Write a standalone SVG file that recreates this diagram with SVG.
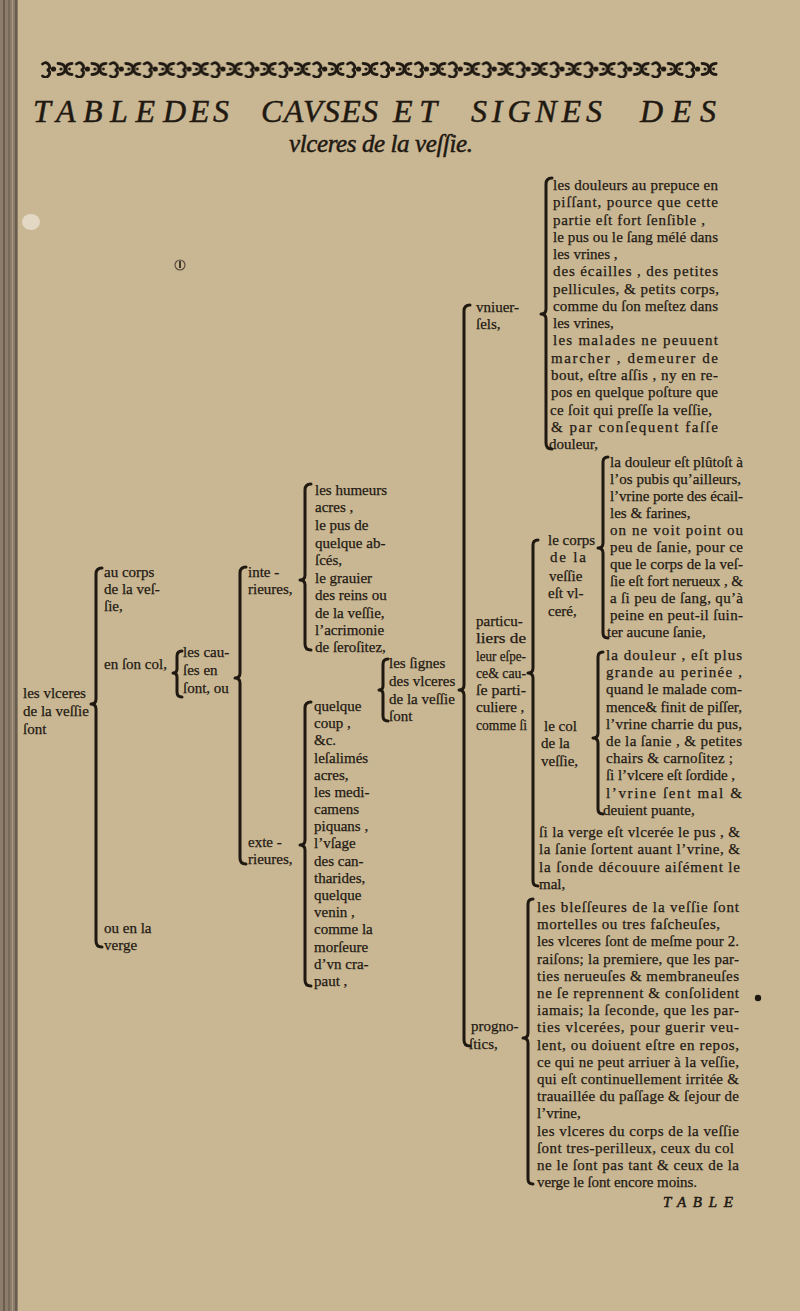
<svg xmlns="http://www.w3.org/2000/svg" width="800" height="1311" viewBox="0 0 800 1311">
<defs>
<style>
.t{font-family:"Liberation Serif","Times New Roman",serif;font-size:15px;fill:#1f1912;stroke:#1f1912;stroke-width:0.25;}
.it{font-family:"Liberation Serif","Times New Roman",serif;font-style:italic;fill:#1f1912;stroke:#1f1912;stroke-width:0.5;}
.b{fill:none;stroke:#1f1912;stroke-width:3;stroke-linecap:round;stroke-linejoin:round;}
.orn{fill:none;stroke:#1f1912;stroke-width:2.8;stroke-linecap:round;}
</style>
<pattern id="ornament" patternUnits="userSpaceOnUse" x="40" y="60" width="33.9" height="18">
<path class="orn" d="M2.5 4 q4 -3 6.5 1 q2 4 -2 5 q4 1 2 5 q-2.5 4 -6.5 1"/>
<circle cx="13.5" cy="9" r="2.6" fill="#1f1912"/>
<path class="orn" d="M18 3.5 q7 0 7 5.5 q0 5.5 -7 5.5"/>
<path class="orn" d="M32 3.5 q-6 0 -6 5.5 q0 5.5 6 5.5"/>
<circle cx="21" cy="9" r="1.6" fill="#1f1912"/>
<circle cx="29.5" cy="9" r="1.4" fill="#1f1912"/>
</pattern>
</defs>

<g id="page">
<rect x="0" y="0" width="800" height="1311" fill="#c9b794"/>
<rect x="0" y="0" width="18" height="1311" fill="#8b7d69"/>
<line x1="4" y1="0" x2="4" y2="1311" stroke="#5e5446" stroke-width="1.5"/>
<line x1="9" y1="0" x2="9" y2="1311" stroke="#6a5f50" stroke-width="1.2"/>
<line x1="12.5" y1="0" x2="12.5" y2="1311" stroke="#a89a83" stroke-width="1"/>
<line x1="16" y1="0" x2="16" y2="1311" stroke="#5e5446" stroke-width="1.5"/>
<ellipse cx="31" cy="222" rx="9" ry="8" fill="#e2d8c3"/>
<circle cx="180" cy="265" r="5" fill="none" stroke="#5a4d3e" stroke-width="1.2"/>
<line x1="180" y1="261" x2="180" y2="268" stroke="#1f1912" stroke-width="1.6"/>
<circle cx="758" cy="998" r="3.2" fill="#1e1812"/>
</g>

<g id="header">
<rect x="40" y="60" width="678" height="18" fill="url(#ornament)"/>
<text class="it" font-size="32" x="33" y="122" textLength="122" lengthAdjust="spacing">TABLE</text>
<text class="it" font-size="32" x="163" y="122" textLength="66" lengthAdjust="spacing">DES</text>
<text class="it" font-size="32" x="261" y="122" textLength="117" lengthAdjust="spacing">CAVSES</text>
<text class="it" font-size="32" x="393" y="122" textLength="44" lengthAdjust="spacing">ET</text>
<text class="it" font-size="32" x="471" y="122" textLength="131" lengthAdjust="spacing">SIGNES</text>
<text class="it" font-size="32" x="640" y="122" textLength="76" lengthAdjust="spacing">DES</text>
<text class="it" font-size="25" x="289" y="152" textLength="184" lengthAdjust="spacing">vlceres de la veſſie.</text>
</g>

<g id="connectors">
<path class="b" d="M102,568 Q96,568 96,574 L96,699 Q96,704 91,704 Q96,704 96,709 L96,941 Q96,947 102,947"/>
<path class="b" d="M182,651 Q177,651 177,656 L177,669 Q177,673 173,673 Q177,673 177,677 L177,692 Q177,697 182,697"/>
<path class="b" d="M246,567 Q240,567 240,573 L240,673 Q240,678 235,678 Q240,678 240,683 L240,858 Q240,864 246,864"/>
<path class="b" d="M311,484 Q305,484 305,490 L305,575 Q305,580 300,580 Q305,580 305,585 L305,644 Q305,650 311,650"/>
<path class="b" d="M311,702 Q305,702 305,708 L305,840 Q305,845 300,845 Q305,845 305,850 L305,980 Q305,986 311,986"/>
<path class="b" d="M388,659 Q383,659 383,664 L383,686 Q383,690 379,690 Q383,690 383,694 L383,716 Q383,721 388,721"/>
<path class="b" d="M470,305 Q464,305 464,311 L464,685 Q464,690 459,690 Q464,690 464,695 L464,1040 Q464,1046 470,1046"/>
<path class="b" d="M552,178 Q546,178 546,184 L546,309 Q546,314 541,314 Q546,314 546,319 L546,443 Q546,449 552,449"/>
<path class="b" d="M538,540 Q533,540 533,545 L533,668 Q533,673 528,673 Q533,673 533,678 L533,881 Q533,886 538,886"/>
<path class="b" d="M608,457 Q603,457 603,462 L603,543 Q603,548 598,548 Q603,548 603,553 L603,633 Q603,638 608,638"/>
<path class="b" d="M603,652 Q598,652 598,657 L598,733 Q598,738 593,738 Q598,738 598,743 L598,809 Q598,814 603,814"/>
<path class="b" d="M533,899 Q528,899 528,904 L528,1033 Q528,1038 523,1038 Q528,1038 528,1043 L528,1179 Q528,1184 533,1184"/>
</g>

<g id="node-root">
<text class="t" x="23" y="698">les vlceres</text>
<text class="t" x="23" y="716">de la veſſie</text>
<text class="t" x="23" y="734">ſont</text>
</g>

<g id="node-corps">
<text class="t" x="104" y="577">au corps</text>
<text class="t" x="104" y="594">de la veſ-</text>
<text class="t" x="104" y="611">ſie,</text>
</g>

<g id="node-col">
<text class="t" x="104" y="669">en ſon col,</text>
</g>

<g id="node-verge">
<text class="t" x="104" y="933">ou en la</text>
<text class="t" x="104" y="950">verge</text>
</g>

<g id="node-causes">
<text class="t" x="183" y="657">les cau-</text>
<text class="t" x="183" y="675">ſes en</text>
<text class="t" x="183" y="693">ſont, ou</text>
</g>

<g id="node-interieures">
<text class="t" x="248" y="577">inte -</text>
<text class="t" x="248" y="594">rieures,</text>
</g>

<g id="node-exterieures">
<text class="t" x="248" y="847">exte -</text>
<text class="t" x="248" y="864">rieures,</text>
</g>

<g id="node-causes-int">
<text class="t" x="315" y="495">les humeurs</text>
<text class="t" x="315" y="512">acres ,</text>
<text class="t" x="315" y="530">le pus de</text>
<text class="t" x="315" y="548">quelque ab-</text>
<text class="t" x="315" y="565">ſcés,</text>
<text class="t" x="315" y="583">le grauier</text>
<text class="t" x="315" y="600">des reins ou</text>
<text class="t" x="315" y="618">de la veſſie,</text>
<text class="t" x="315" y="635">l’acrimonie</text>
<text class="t" x="315" y="652">de ſeroſitez,</text>
</g>

<g id="node-causes-ext">
<text class="t" x="314" y="711">quelque</text>
<text class="t" x="314" y="728">coup ,</text>
<text class="t" x="314" y="745">&amp;c.</text>
<text class="t" x="314" y="763">leſalimés</text>
<text class="t" x="314" y="780">acres,</text>
<text class="t" x="314" y="797">les medi-</text>
<text class="t" x="314" y="814">camens</text>
<text class="t" x="314" y="831">piquans ,</text>
<text class="t" x="314" y="848">l’vſage</text>
<text class="t" x="314" y="866">des can-</text>
<text class="t" x="314" y="883">tharides,</text>
<text class="t" x="314" y="900">quelque</text>
<text class="t" x="314" y="917">venin ,</text>
<text class="t" x="314" y="934">comme la</text>
<text class="t" x="314" y="952">morſeure</text>
<text class="t" x="314" y="969">d’vn cra-</text>
<text class="t" x="314" y="986">paut ,</text>
</g>

<g id="node-signes">
<text class="t" x="389" y="668">les ſignes</text>
<text class="t" x="389" y="686">des vlceres</text>
<text class="t" x="389" y="704">de la veſſie</text>
<text class="t" x="389" y="721">ſont</text>
</g>

<g id="node-vniuersels">
<text class="t" x="476" y="312">vniuer-</text>
<text class="t" x="476" y="329">ſels,</text>
</g>

<g id="node-particuliers">
<text class="t" x="476" y="626">particu-</text>
<text class="t" x="476" y="643" textLength="50" lengthAdjust="spacingAndGlyphs">liers de</text>
<text class="t" x="476" y="661" textLength="50" lengthAdjust="spacingAndGlyphs">leur eſpe-</text>
<text class="t" x="476" y="678" textLength="50" lengthAdjust="spacingAndGlyphs">ce&amp; cau-</text>
<text class="t" x="476" y="695" textLength="50" lengthAdjust="spacingAndGlyphs">ſe parti-</text>
<text class="t" x="476" y="712">culiere ,</text>
<text class="t" x="476" y="730" textLength="51" lengthAdjust="spacingAndGlyphs">comme ſi</text>
</g>

<g id="node-prognostics">
<text class="t" x="471" y="1031">progno-</text>
<text class="t" x="469" y="1049">ſtics,</text>
</g>

<g id="node-signes-vniuersels">
<text class="t" x="553" y="190" textLength="165" lengthAdjust="spacing">les douleurs au prepuce en</text>
<text class="t" x="553" y="207.3" textLength="165" lengthAdjust="spacing">piſſant, pource que cette</text>
<text class="t" x="553" y="224.5" textLength="152" lengthAdjust="spacing">partie eſt fort ſenſible ,</text>
<text class="t" x="553" y="241.8" textLength="165" lengthAdjust="spacing">le pus ou le ſang mélé dans</text>
<text class="t" x="553" y="259.1">les vrines ,</text>
<text class="t" x="553" y="276.4" textLength="165" lengthAdjust="spacing">des écailles , des petites</text>
<text class="t" x="553" y="293.6" textLength="166" lengthAdjust="spacing">pellicules, &amp; petits corps,</text>
<text class="t" x="553" y="310.9" textLength="165" lengthAdjust="spacing">comme du ſon meſtez dans</text>
<text class="t" x="553" y="328.2">les vrines,</text>
<text class="t" x="553" y="345.4" textLength="165" lengthAdjust="spacing">les malades ne peuuent</text>
<text class="t" x="551" y="362.7" textLength="167" lengthAdjust="spacing">marcher , demeurer de</text>
<text class="t" x="551" y="380" textLength="167" lengthAdjust="spacing">bout, eſtre aſſis , ny en re-</text>
<text class="t" x="551" y="397.2" textLength="167" lengthAdjust="spacing">pos en quelque poſture que</text>
<text class="t" x="550" y="414.5" textLength="162" lengthAdjust="spacing">ce ſoit qui preſſe la veſſie,</text>
<text class="t" x="551" y="431.8" textLength="167" lengthAdjust="spacing">&amp; par conſequent faſſe</text>
<text class="t" x="549" y="449">douleur,</text>
</g>

<g id="node-corps-vessie">
<text class="t" x="548" y="545">le corps</text>
<text class="t" x="550" y="562" textLength="36" lengthAdjust="spacing">de la</text>
<text class="t" x="549" y="581">veſſie</text>
<text class="t" x="548" y="598">eſt vl-</text>
<text class="t" x="548" y="616">ceré,</text>
</g>

<g id="node-signes-corps">
<text class="t" x="610" y="467" textLength="133" lengthAdjust="spacing">la douleur eſt plûtoſt à</text>
<text class="t" x="610" y="484" textLength="131" lengthAdjust="spacing">l’os pubis qu’ailleurs,</text>
<text class="t" x="610" y="501" textLength="133" lengthAdjust="spacing">l’vrine porte des écail-</text>
<text class="t" x="610" y="518">les &amp; farines,</text>
<text class="t" x="610" y="535" textLength="133" lengthAdjust="spacing">on ne voit point ou</text>
<text class="t" x="610" y="552" textLength="133" lengthAdjust="spacing">peu de ſanie, pour ce</text>
<text class="t" x="610" y="569" textLength="133" lengthAdjust="spacing">que le corps de la veſ-</text>
<text class="t" x="610" y="586" textLength="133" lengthAdjust="spacing">ſie eſt fort nerueux , &amp;</text>
<text class="t" x="610" y="603" textLength="133" lengthAdjust="spacing">a ſi peu de ſang, qu’à</text>
<text class="t" x="610" y="620" textLength="133" lengthAdjust="spacing">peine en peut-il ſuin-</text>
<text class="t" x="607" y="637">ter aucune ſanie,</text>
</g>

<g id="node-col-vessie">
<text class="t" x="544" y="731">le col</text>
<text class="t" x="541" y="748">de la</text>
<text class="t" x="541" y="766">veſſie,</text>
</g>

<g id="node-signes-col">
<text class="t" x="606" y="660" textLength="136" lengthAdjust="spacing">la douleur , eſt plus</text>
<text class="t" x="606" y="677.2" textLength="136" lengthAdjust="spacing">grande au perinée ,</text>
<text class="t" x="606" y="694.4" textLength="136" lengthAdjust="spacing">quand le malade com-</text>
<text class="t" x="606" y="711.6" textLength="136" lengthAdjust="spacing">mence&amp; finit de piſſer,</text>
<text class="t" x="606" y="728.8" textLength="136" lengthAdjust="spacing">l’vrine charrie du pus,</text>
<text class="t" x="606" y="746" textLength="136" lengthAdjust="spacing">de la ſanie , &amp; petites</text>
<text class="t" x="606" y="763.2" textLength="127" lengthAdjust="spacing">chairs &amp; carnoſitez ;</text>
<text class="t" x="606" y="780.4" textLength="129" lengthAdjust="spacing">ſi l’vlcere eſt ſordide ,</text>
<text class="t" x="606" y="797.6" textLength="136" lengthAdjust="spacing">l’vrine ſent mal &amp;</text>
<text class="t" x="603" y="814.8">deuient puante,</text>
</g>

<g id="node-signes-verge">
<text class="t" x="539" y="837" textLength="201" lengthAdjust="spacing">ſi la verge eſt vlcerée le pus , &amp;</text>
<text class="t" x="539" y="854.3" textLength="201" lengthAdjust="spacing">la ſanie ſortent auant l’vrine, &amp;</text>
<text class="t" x="539" y="871.6" textLength="201" lengthAdjust="spacing">la ſonde découure aiſément le</text>
<text class="t" x="539" y="888.9">mal,</text>
</g>

<g id="node-prognostics-list">
<text class="t" x="537" y="912" textLength="202" lengthAdjust="spacing">les bleſſeures de la veſſie ſont</text>
<text class="t" x="537" y="929.2" textLength="183" lengthAdjust="spacing">mortelles ou tres faſcheuſes,</text>
<text class="t" x="537" y="946.4" textLength="202" lengthAdjust="spacing">les vlceres ſont de meſme pour 2.</text>
<text class="t" x="537" y="963.6" textLength="202" lengthAdjust="spacing">raiſons; la premiere, que les par-</text>
<text class="t" x="537" y="980.8" textLength="202" lengthAdjust="spacing">ties nerueuſes &amp; membraneuſes</text>
<text class="t" x="537" y="998" textLength="202" lengthAdjust="spacing">ne ſe reprennent &amp; conſolident</text>
<text class="t" x="537" y="1015.1" textLength="202" lengthAdjust="spacing">iamais; la ſeconde, que les par-</text>
<text class="t" x="537" y="1032.3" textLength="202" lengthAdjust="spacing">ties vlcerées, pour guerir veu-</text>
<text class="t" x="537" y="1049.5" textLength="202" lengthAdjust="spacing">lent, ou doiuent eſtre en repos,</text>
<text class="t" x="537" y="1066.7" textLength="202" lengthAdjust="spacing">ce qui ne peut arriuer à la veſſie,</text>
<text class="t" x="537" y="1083.9" textLength="202" lengthAdjust="spacing">qui eſt continuellement irritée &amp;</text>
<text class="t" x="537" y="1101.1" textLength="202" lengthAdjust="spacing">trauaillée du paſſage &amp; ſejour de</text>
<text class="t" x="537" y="1118.3">l’vrine,</text>
<text class="t" x="537" y="1135.5" textLength="202" lengthAdjust="spacing">les vlceres du corps de la veſſie</text>
<text class="t" x="537" y="1152.7" textLength="197" lengthAdjust="spacing">ſont tres-perilleux, ceux du col</text>
<text class="t" x="537" y="1169.9" textLength="202" lengthAdjust="spacing">ne le ſont pas tant &amp; ceux de la</text>
<text class="t" x="537" y="1187.1" textLength="160" lengthAdjust="spacing">verge le ſont encore moins.</text>
</g>

<g id="catchword">
<text class="it" font-size="15" x="663" y="1207" textLength="70" lengthAdjust="spacing">TABLE</text>
</g>
</svg>
